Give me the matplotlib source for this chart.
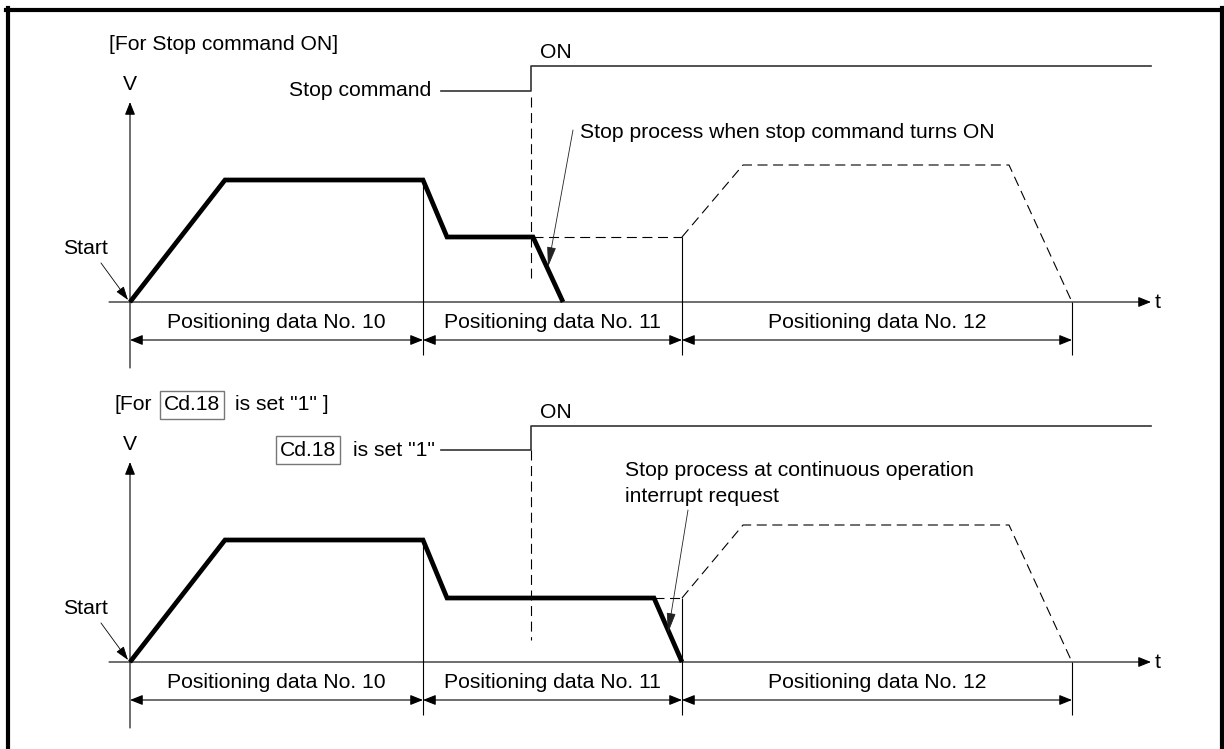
import matplotlib
matplotlib.use("Agg")
import matplotlib.pyplot as plt
from matplotlib.lines import Line2D

plt.rcParams['font.family'] = ['Liberation Sans', 'DejaVu Sans']

# ---------------- data (t: time units, v: speed units; panel-relative) ----------------
# Panel 1: stop command ON
p1_t = [0, 95, 293, 317, 403, 433]
p1_v = [0, 122, 122, 65, 65, 0]
p1_dash_t = [403, 552]
p1_dash_v = [65, 65]
p1_next_t = [552, 613, 879, 942]
p1_next_v = [65, 137, 137, 0]

# Panel 2: Cd.18 set "1"
p2_t = [0, 95, 293, 317, 524, 552]
p2_v = [0, 122, 122, 64, 64, 0]
p2_dash_t = [524, 552]
p2_dash_v = [64, 64]
p2_next_t = [552, 613, 879, 942]
p2_next_v = [64, 137, 137, 0]

# segment boundaries and labels
boundaries = [0, 293, 552, 942]
seg_labels = ["Positioning data No. 10", "Positioning data No. 11", "Positioning data No. 12"]

# signal (low -> high at switch time)
sig_t = [311, 401, 401, 1021]
sig_v_p1 = [211, 211, 236, 236]
sig_v_p2 = [212, 212, 236, 236]

W, H = 1224, 749
fig = plt.figure(figsize=(W / 100, H / 100), dpi=100)

# outer frame (left, top, right)
fig.add_artist(Line2D([8 / W, 8 / W], [0, 1 - 8 / H], transform=fig.transFigure, color='black', lw=3.0))
fig.add_artist(Line2D([6 / W, 1222 / W], [1 - 9.7 / H, 1 - 9.7 / H], transform=fig.transFigure, color='black', lw=3.0))
fig.add_artist(Line2D([1222 / W, 1222 / W], [0, 1 - 8 / H], transform=fig.transFigure, color='black', lw=3.0))

FS = 15.2
THIN = 0.8


def panel(origin_y, prof_t, prof_v, dash_t, dash_v, next_t, next_v, sig_v, title_fn, sig_label_fn,
          note_lines, note_xy, note_arrow, dashed_top, dashed_bot):
    ax = fig.add_axes([0, 0, 1, 1])
    ax.set_xlim(-130, W - 130)
    ax.set_ylim(origin_y - H, origin_y)
    ax.axis('off')
    ax.patch.set_alpha(0)

    def arr(x0, y0, x1, y1, style='-|>', lw=THIN, color='black', hl=0.55, hw=0.22, ms=14):
        ax.annotate('', xy=(x1, y1), xytext=(x0, y0),
                    arrowprops=dict(arrowstyle=f'{style},head_length={hl},head_width={hw}',
                                    lw=lw, color=color, shrinkA=0, shrinkB=0,
                                    mutation_scale=ms))

    # axes
    arr(0, -66, 0, 200)
    arr(-21, 0, 1021, 0)
    ax.text(0, 217, 'V', ha='center', va='center', fontsize=FS)
    ax.text(1025, 0, 't', ha='left', va='center', fontsize=FS)

    # boundaries
    tops = [None, prof_v[2], next_v[0], 0]
    for b, top in zip(boundaries[1:], tops[1:]):
        ax.plot([b, b], [top, -53], color='black', lw=THIN, solid_capstyle='butt')
    for i, lab in enumerate(seg_labels):
        a, b = boundaries[i], boundaries[i + 1]
        ax.text((a + b) / 2, -20, lab, ha='center', va='center', fontsize=FS)
        arr(a, -38, b, -38, style='<|-|>')

    # profile
    ax.plot(prof_t, prof_v, color='black', lw=3.4, solid_joinstyle='miter', solid_capstyle='butt')
    ax.plot(dash_t, dash_v, color='black', lw=THIN, linestyle=(0, (9, 5)))
    ax.plot(next_t, next_v, color='black', lw=THIN, linestyle=(0, (9, 5)))

    # signal
    ax.plot(sig_t, sig_v, color='#333333', lw=1.2)
    ax.plot([sig_t[1], sig_t[1]], [dashed_top, dashed_bot], color='black', lw=THIN, linestyle=(0, (9, 5)))
    ax.text(410, 249, 'ON', ha='left', va='center', fontsize=FS)

    # start label
    ax.text(-45, 54, 'Start', ha='center', va='center', fontsize=FS)
    arr(-29, 39, -2, 2, lw=0.6, hl=0.6, hw=0.2, ms=14)

    title_fn(ax)
    sig_label_fn(ax)

    # note
    for k, line in enumerate(note_lines):
        ax.text(note_xy[0], note_xy[1] - 27 * k, line, ha='left', va='center', fontsize=FS)
    (x0, y0), (x1, y1) = note_arrow
    arr(x0, y0, x1, y1, lw=0.6, color='#222222', hl=0.9, hw=0.2, ms=14)
    return ax


def title1(ax):
    ax.text(-21, 257, '[For Stop command ON]', ha='left', va='center', fontsize=FS)


def siglab1(ax):
    ax.text(301, 211, 'Stop command', ha='right', va='center', fontsize=FS)


BOX = dict(boxstyle='square,pad=0.2', fc='white', ec='#777777', lw=1.0)


def title2(ax):
    ax.text(-15, 257, '[For', ha='left', va='center', fontsize=FS)
    ax.text(34, 257, 'Cd.18', ha='left', va='center', fontsize=FS, bbox=BOX)
    ax.text(105, 257, 'is set "1" ]', ha='left', va='center', fontsize=FS)


def siglab2(ax):
    ax.text(150, 212, 'Cd.18', ha='left', va='center', fontsize=FS, bbox=BOX)
    ax.text(305, 212, 'is set "1"', ha='right', va='center', fontsize=FS)


panel(302, p1_t, p1_v, p1_dash_t, p1_dash_v, p1_next_t, p1_next_v, sig_v_p1, title1, siglab1,
      ['Stop process when stop command turns ON'], (450, 169),
      ((443, 172), (418, 35)), 205, 24)

panel(662, p2_t, p2_v, p2_dash_t, p2_dash_v, p2_next_t, p2_next_v, sig_v_p2, title2, siglab2,
      ['Stop process at continuous operation', 'interrupt request'], (495, 192),
      ((558, 152), (538, 29)), 212, 22)

fig.savefig('out.png', dpi=100)
